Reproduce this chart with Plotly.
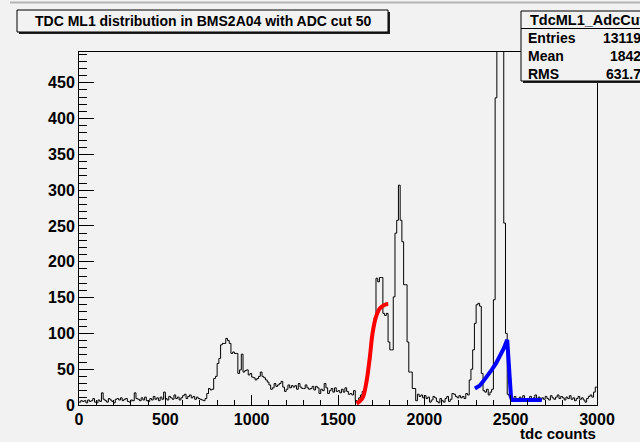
import numpy as np
import plotly.graph_objects as go

# ---- histogram: TDC counts, 10-count bins from 0 to 3000 ----
BIN_LO, BIN_HI, BIN_WIDTH = 0, 3000, 10

counts = [
    # 0 - 990
    4, 6, 5, 6, 3, 7, 5, 6, 9, 4,
    3, 7, 5, 17, 8, 6, 4, 9, 7, 5,
    3, 8, 9, 7, 10, 6, 8, 9, 5, 4,
    7, 6, 17, 9, 8, 6, 10, 7, 11, 6,
    5, 9, 7, 12, 8, 10, 6, 11, 8, 18,
    9, 7, 12, 10, 8, 14, 9, 11, 7, 10,
    13, 15, 9, 12, 14, 10, 12, 8, 11, 9,
    8, 7, 6, 9, 16, 23, 21, 22, 37, 40,
    58, 65, 84, 86, 86, 93, 90, 86, 72, 74,
    72, 72, 44, 49, 71, 46, 48, 49, 42, 44,
    # 1000 - 1990
    39, 38, 35, 37, 40, 46, 40, 38, 35, 32,
    28, 22, 24, 30, 26, 28, 30, 33, 25, 19,
    22, 28, 24, 27, 25, 27, 22, 30, 25, 23,
    23, 28, 24, 22, 23, 26, 21, 26, 24, 16,
    22, 20, 30, 24, 16, 20, 23, 18, 24, 19,
    20, 17, 22, 18, 24, 19, 15, 16, 14, 20,
    6, 4, 10, 14, 19, 22, 30, 45, 65, 88,
    105, 122, 177, 172, 178, 178, 128, 125, 128, 88,
    77, 77, 151, 240, 258, 307, 258, 228, 168, 168,
    88, 46, 46, 23, 23, 6, 15, 12, 14, 10,
    # 2000 - 2990
    13, 9, 11, 4, 7, 12, 10, 5, 3, 9,
    6, 4, 9, 12, 5, 8, 16, 15, 12, 10,
    13, 10, 12, 9, 16, 14, 35, 50, 77, 114,
    140, 142, 138, 44, 20, 18, 22, 14, 18, 22,
    147, 429, 560, 510, 590, 530, 254, 100, 15, 12,
    10, 8, 12, 9, 6, 11, 8, 13, 9, 7,
    9, 12, 8, 10, 14, 9, 11, 7, 10, 8,
    12, 9, 7, 13, 10, 8, 11, 14, 9, 12,
    10, 7, 11, 9, 13, 8, 10, 6, 9, 12,
    8, 10, 7, 4, 9, 12, 14, 11, 18, 25,
]

# ---- fitted curves (sampled) ----
rise_x = [1608, 1630, 1646, 1660, 1670, 1685, 1700, 1720, 1743, 1772, 1791]
rise_y = [2, 6, 12, 26, 40, 68, 100, 123, 135, 140, 141]

fall_x = [2293, 2320, 2341, 2365, 2390, 2415, 2438, 2460, 2480,
          2484, 2488, 2492, 2497, 2502, 2508, 2600, 2680]
fall_y = [23, 27, 33, 40, 49, 58, 68, 79, 91,
          75, 55, 40, 22, 11, 7, 7, 7]

# ---- text ----
title_text = "TDC ML1 distribution in BMS2A04 with ADC cut 50"
x_title = "tdc counts"
stats_name = "TdcML1_AdcCut"
stats_rows = [("Entries", "13119"), ("Mean", "1842"), ("RMS", "631.7")]

W, H = 640, 442
ML, MR, MT, MB = 79, 43, 52, 37
BG = "#f2f2f2"
FONT = "Liberation Sans"


def px(x):
    return (x - ML) / (W - ML - MR)


def py(y):
    return (H - MB - y) / (H - MT - MB)


edges = np.arange(BIN_LO, BIN_HI + BIN_WIDTH, BIN_WIDTH)
step_y = list(counts) + [counts[-1]]

fig = go.Figure()
fig.add_trace(go.Scatter(
    x=edges, y=step_y, mode="lines", line_shape="hv",
    line=dict(color="black", width=1), hoverinfo="skip",
))
fig.add_trace(go.Scatter(
    x=rise_x, y=rise_y, mode="lines", line_shape="spline",
    line=dict(color="#ff0000", width=4), hoverinfo="skip",
))
fig.add_trace(go.Scatter(
    x=fall_x, y=fall_y, mode="lines",
    line=dict(color="#0000ff", width=4), hoverinfo="skip",
))

bold = dict(family=FONT, size=14, color="black", weight="bold")
tick_font = dict(family=FONT, size=16, color="black", weight="bold")

fig.update_layout(
    width=W, height=H, autosize=False,
    margin=dict(l=ML, r=MR, t=MT, b=MB, pad=0),
    paper_bgcolor=BG, plot_bgcolor=BG,
    showlegend=False,
    xaxis=dict(
        range=[0, 3000], tick0=0, dtick=500,
        ticks="inside", ticklen=10, tickcolor="black", tickwidth=1,
        minor=dict(dtick=100, ticks="inside", ticklen=5, tickcolor="black"),
        showline=True, linecolor="black", linewidth=1, mirror=True,
        showgrid=False, zeroline=False, tickfont=tick_font,
    ),
    yaxis=dict(
        range=[0, 493], tick0=0, dtick=50,
        ticks="inside", ticklen=15, tickcolor="black", tickwidth=1,
        minor=dict(dtick=10, ticks="inside", ticklen=8, tickcolor="black"),
        showline=True, linecolor="black", linewidth=1, mirror=True,
        showgrid=False, zeroline=False, tickfont=tick_font,
    ),
)

shapes = []
# top border line of the canvas
shapes.append(dict(type="line", xref="paper", yref="paper",
                   x0=px(10), x1=px(640), y0=py(2.5), y1=py(2.5),
                   line=dict(color="#b4b4b4", width=2), layer="above"))
# title box with shadow
shapes.append(dict(type="rect", xref="paper", yref="paper",
                   x0=px(19), x1=px(390), y0=py(34), y1=py(12),
                   fillcolor="#202020", line=dict(width=0), layer="above"))
shapes.append(dict(type="rect", xref="paper", yref="paper",
                   x0=px(17), x1=px(388), y0=py(32), y1=py(10),
                   fillcolor=BG, line=dict(color="black", width=1), layer="above"))
# statistics box with shadow
shapes.append(dict(type="rect", xref="paper", yref="paper",
                   x0=px(523), x1=px(660), y0=py(83), y1=py(13),
                   fillcolor="#202020", line=dict(width=0), layer="above"))
shapes.append(dict(type="rect", xref="paper", yref="paper",
                   x0=px(521), x1=px(660), y0=py(81), y1=py(11),
                   fillcolor=BG, line=dict(color="black", width=1), layer="above"))
shapes.append(dict(type="line", xref="paper", yref="paper",
                   x0=px(521), x1=px(660), y0=py(28.5), y1=py(28.5),
                   line=dict(color="black", width=1), layer="above"))
fig.update_layout(shapes=shapes)

ann = []
ann.append(dict(text=title_text, xref="paper", yref="paper",
                x=px(202.5), y=py(21), xanchor="center", yanchor="middle",
                showarrow=False, font=bold))
ann.append(dict(text=stats_name, xref="paper", yref="paper",
                x=px(528), y=py(19.5), xanchor="left", yanchor="middle",
                showarrow=False, font=dict(family=FONT, size=14.5, color="black", weight="bold")))
for i, (lab, val) in enumerate(stats_rows):
    yy = 37.5 + 18 * i
    ann.append(dict(text=lab, xref="paper", yref="paper",
                    x=px(526), y=py(yy), xanchor="left", yanchor="middle",
                    showarrow=False, font=bold))
    ann.append(dict(text=val, xref="paper", yref="paper",
                    x=px(643), y=py(yy), xanchor="right", yanchor="middle",
                    showarrow=False, font=bold))
ann.append(dict(text=x_title, xref="paper", yref="paper",
                x=px(598), y=py(433.5), xanchor="right", yanchor="middle",
                showarrow=False, font=dict(family=FONT, size=15, color="black", weight="bold")))
fig.update_layout(annotations=ann)

fig.write_html("out.html")
